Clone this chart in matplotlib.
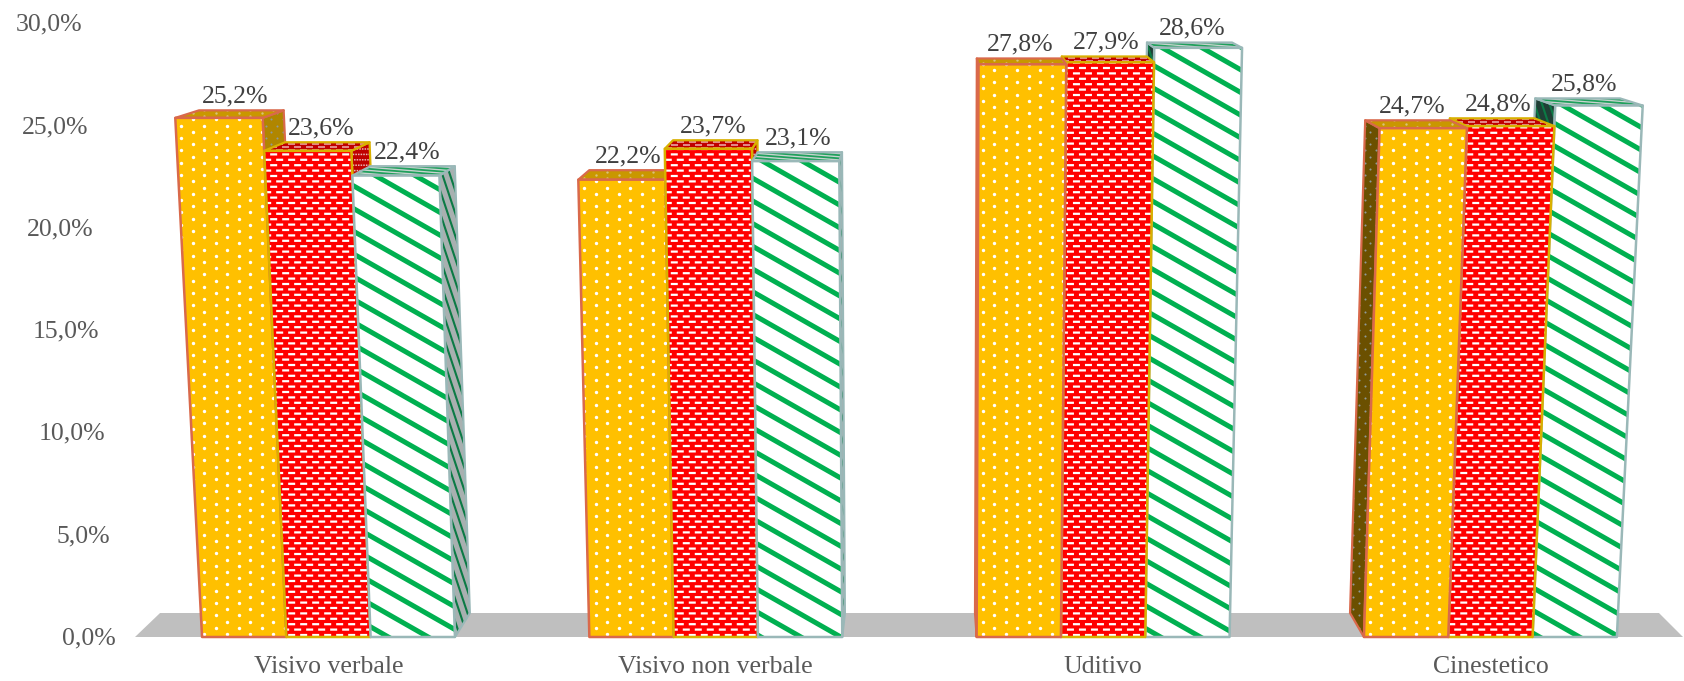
import matplotlib
matplotlib.use("Agg")
import numpy as np
import matplotlib.pyplot as plt
from matplotlib.patches import Polygon

categories = ["Visivo verbale", "Visivo non verbale", "Uditivo", "Cinestetico"]
yellow_values = [25.2, 22.2, 27.8, 24.7]
red_values = [23.6, 23.7, 27.9, 24.8]
green_values = [22.4, 23.1, 28.6, 25.8]
y_ticks = [0, 5, 10, 15, 20, 25, 30]

W, H = 1684, 681
BASE_Y = 637.0
PX_PER_UNIT = 20.6
GROUP_STEP = 387.3
GROUP_X0 = 328.5
BAR_W = 84.3
SPREAD_X = 930.0       # verticals converge towards this x
SPREAD = 0.00146
VP = np.array([925.0, -120.0])  # vanishing point of the depth axis
DEPTH = 0.0317

plt.rcParams["font.family"] = ["Liberation Serif", "DejaVu Serif"]


def project(x, v, d=0.0):
    """x in front-plane pixels at value 0, v value in %, d depth 0..1"""
    x = np.asarray(x, dtype=float)
    v = np.asarray(v, dtype=float)
    sx = SPREAD_X + (x - SPREAD_X) * (1 + SPREAD * v)
    sy = BASE_Y - v * PX_PER_UNIT
    sx = VP[0] + (sx - VP[0]) * (1 - DEPTH * d)
    sy = VP[1] + (sy - VP[1]) * (1 - DEPTH * d)
    return sx, sy


def face_points(face, x0, x1, v):
    if face == "front":
        return [(x0, 0, 0), (x1, 0, 0), (x1, v, 0), (x0, v, 0)]
    if face == "top":
        return [(x0, v, 0), (x1, v, 0), (x1, v, 1), (x0, v, 1)]
    if face == "right":
        return [(x1, 0, 0), (x1, 0, 1), (x1, v, 1), (x1, v, 0)]
    return [(x0, 0, 0), (x0, 0, 1), (x0, v, 1), (x0, v, 0)]


def to_screen(points):
    return np.array([project(*p) for p in points])


def box(poly):
    return poly[:, 0].min(), poly[:, 1].min(), poly[:, 0].max(), poly[:, 1].max()


def dots(ax, poly, color, sx=1.0, sy=1.0, size=6.0):
    # sx, sy squeeze the texture on the receding faces
    x0, y0, x1, y1 = box(poly)
    xs, ys = [], []
    for i, y in enumerate(np.arange(y1 - 3 * sy, y0 - 8, -6.2 * sy)):
        off = 11.5 * sx * (i % 2)
        for x in np.arange(x0 - 23 * sx + 6 * sx + off, x1 + 23, 23 * sx):
            xs.append(x)
            ys.append(y)
    return ax.scatter(xs, ys, s=size, marker="o", c=color, lw=0)


def dashes(ax, poly, color, sx=1.0, sy=1.0, lw=1.6):
    x0, y0, x1, y1 = box(poly)
    segs_x, segs_y = [], []
    for i, y in enumerate(np.arange(y1 - 2 * sy, y0 - 6, -5.4 * sy)):
        off = 6.0 * sx * (i % 2)
        for x in np.arange(x0 - 12 * sx + off, x1 + 12, 12.0 * sx):
            segs_x += [x, x + 7 * sx, np.nan]
            segs_y += [y, y, np.nan]
    return ax.plot(segs_x, segs_y, color=color, lw=lw, solid_capstyle="butt")[0]


def stripes(ax, poly, color, sx=1.0, sy=1.0, lw=3.6):
    slope, gap = 0.57 * sy / sx, 22.7 * sy
    x0, y0, x1, y1 = box(poly)
    segs_x, segs_y = [], []
    span = (x1 - x0) * slope
    for c in np.arange(y0 - span - gap, y1 + gap, gap):
        segs_x += [x0, x1, np.nan]
        segs_y += [c, c + span, np.nan]
    return ax.plot(segs_x, segs_y, color=color, lw=lw)[0]


PATTERNS = {"dots": dots, "dashes": dashes, "stripes": stripes}
PATTERN_KW = {
    "dots": {"front": {}, "top": dict(sy=0.5, size=3.0), "side": dict(sx=0.5, size=2.2)},
    "dashes": {"front": {}, "top": dict(sy=0.55, lw=1.1), "side": dict(sx=0.22, lw=1.1)},
    "stripes": {"front": {}, "top": dict(sy=0.14, lw=1.3), "side": dict(sx=0.19, lw=1.5)},
}


def draw_face(ax, poly, fill, edge, pattern, pattern_color, kw, lw, z):
    base = Polygon(poly, closed=True, facecolor=fill, edgecolor="none", zorder=z)
    ax.add_patch(base)
    art = PATTERNS[pattern](ax, poly, pattern_color, **kw)
    art.set_zorder(z)
    art.set_clip_path(base)
    ax.add_patch(Polygon(poly, closed=True, fill=False, edgecolor=edge, lw=lw,
                         joinstyle="round", zorder=z))


series_styles = [
    dict(values=yellow_values, fill="#ffc000", edge="#d9694b", pattern="dots", mark="#ffffff",
         top="#c99700", top_mark="#d9c27a", side_light="#b08600", side_dark="#6b5000", side_mark="#8f9a9a"),
    dict(values=red_values, fill="#ff0000", edge="#d9b000", pattern="dashes", mark="#ffffff",
         top="#c00000", top_mark="#eeb0b0", side_light="#c00000", side_dark="#8a0000", side_mark="#e8b8b8"),
    dict(values=green_values, fill="#ffffff", edge="#9ab8b8", pattern="stripes", mark="#00b050",
         top="#c8d4d0", top_mark="#1fa05c", side_light="#a8b0b0", side_dark="#1f3f35", side_mark="#0b7a45"),
]

# layout in 1:1 pixels, y growing downwards
fig = plt.figure(figsize=(W / 100, H / 100), dpi=100)
ax = fig.add_axes([0, 0, 1, 1])
ax.set_xlim(0, W)
ax.set_ylim(H, 0)
ax.axis("off")

# floor
floor_x0, floor_x1 = 135.0, 1683.0
floor = [project(floor_x0, 0, 0), project(floor_x1, 0, 0), project(floor_x1, 0, 1), project(floor_x0, 0, 1)]
ax.add_patch(Polygon(floor, closed=True, facecolor="#bfbfbf", edgecolor="none", zorder=1))

# bars, farthest from the vanishing point painted first
bars = []
for g in range(len(categories)):
    center = GROUP_X0 + GROUP_STEP * g
    for s, st in enumerate(series_styles):
        x0 = center + (s - 1.5) * BAR_W
        bars.append((x0, x0 + BAR_W, st["values"][g], st))
bars.sort(key=lambda b: -abs((b[0] + b[1]) / 2 - VP[0]))

z = 2
for x0, x1, v, st in bars:
    mid = (x0 + x1) / 2
    kw = PATTERN_KW[st["pattern"]]
    if mid < VP[0]:
        side = to_screen(face_points("right", x0, x1, v))
        draw_face(ax, side, st["side_light"], st["edge"], st["pattern"], st["side_mark"], kw["side"], 1.6, z)
    else:
        side = to_screen(face_points("left", x0, x1, v))
        draw_face(ax, side, st["side_dark"], st["edge"], st["pattern"], st["side_mark"], kw["side"], 1.6, z)
    top = to_screen(face_points("top", x0, x1, v))
    draw_face(ax, top, st["top"], st["edge"], st["pattern"], st["top_mark"], kw["top"], 1.6, z + 1)
    front = to_screen(face_points("front", x0, x1, v))
    draw_face(ax, front, st["fill"], st["edge"], st["pattern"], st["mark"], kw["front"], 1.8, z + 2)
    z += 3

    label_x, _ = project(mid, v, 0.7)
    _, label_y = project(mid, v, 1)
    ax.text(label_x, label_y - 3, f"{v:.1f}%".replace(".", ","), ha="center", va="bottom",
            fontsize=18.5, color="#404040", zorder=100)

# value axis labels follow the slant of the left wall
for t in y_ticks:
    sy = BASE_Y + 1.5 - t * PX_PER_UNIT * 0.993
    sx = 116 - t * 1.12
    ax.text(sx, sy, f"{t:.1f}%".replace(".", ","), ha="right", va="center",
            fontsize=18.5, color="#595959")

for g, name in enumerate(categories):
    ax.text(GROUP_X0 + GROUP_STEP * g, 667, name, ha="center", va="center",
            fontsize=18.5, color="#595959")

fig.savefig("out.png", dpi=100)
